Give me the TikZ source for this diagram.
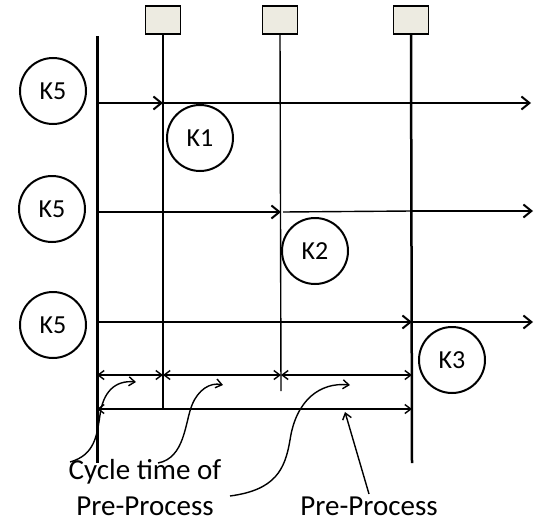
\documentclass[tikz,border=0pt]{standalone}
\usepackage{fontspec}
\setmainfont{Carlito}
\usetikzlibrary{arrows.meta}
\definecolor{boxfill}{HTML}{EDEBE1}
\tikzset{
  kcirc/.style={draw,circle,line width=2pt,minimum size=66pt,inner sep=0pt,font=\fontsize{26}{30}\selectfont},
  stbox/.style={draw,line width=1.5pt,fill=boxfill,minimum width=35pt,minimum height=28pt,inner sep=0pt},
  bigtip/.style={-{Straight Barb[length=8pt,width=13pt,line width=2pt]}},
  dimtip/.style={{Straight Barb[length=6pt,width=9pt]}-{Straight Barb[length=6pt,width=9pt]}},
  curvetip/.style={-{Straight Barb[length=6pt,width=9pt]}},
  thinln/.style={line width=1.4pt},
  thickln/.style={line width=2.5pt},
  lbl/.style={font=\fontsize{29}{36}\selectfont,align=center,inner sep=0pt}
}
\begin{document}
\begin{tikzpicture}[x=1pt,y=-1pt]
\useasboundingbox (0,0) rectangle (543,522);
% boxes
\node[stbox] (b1) at (163,20) {};
\node[stbox] (b2) at (280,20) {};
\node[stbox] (b3) at (411,20) {};
% circles
\node[kcirc] (k5a) at (53,91) {K5};
\node[kcirc] (k5b) at (52,209) {K5};
\node[kcirc] (k5c) at (53,325) {K5};
\node[kcirc] (k1) at (200,138) {K1};
\node[kcirc] (k2) at (315,251) {K2};
\node[kcirc] (k3) at (452,360) {K3};
% coordinates
\coordinate (Ltop) at (97,36);
\coordinate (Lbot) at (97,463);
\coordinate (v2b) at (163,409);
\coordinate (v3b) at (281,391);
\coordinate (v4b) at (412,463);
\coordinate (r1a) at (97,103);
\coordinate (r1b) at (163,103);
\coordinate (r1c) at (412,103);
\coordinate (r1d) at (531,103);
\coordinate (r2a) at (97,212);
\coordinate (r2b) at (281,212);
\coordinate (r2c) at (412,211);
\coordinate (r2d) at (533,211);
\coordinate (r3a) at (97,322);
\coordinate (r3b) at (412,322);
\coordinate (r3c) at (533,322);
\coordinate (d0) at (97,375);
\coordinate (d1) at (163,375);
\coordinate (d2) at (281,375);
\coordinate (d3) at (412,375);
\coordinate (e0) at (97,409);
\coordinate (e3) at (412,409);
% vertical lines
\draw[line width=3pt] (Ltop) -- (Lbot);
\draw[thinln] (b1.south) -- (v2b);
\draw[thinln] (b2.south) -- (v3b);
\draw[thickln] (b3.south) -- (v4b);
% row arrows
\draw[thickln,bigtip] (r1a) -- (r1b);
\draw[thinln] (r1b) -- (r1c);
\draw[thickln,bigtip] (r1c) -- (r1d);
\draw[thickln,bigtip] (r2a) -- (r2b);
\draw[thinln] ([xshift=2pt]r2b) -- (r2c);
\draw[thickln,bigtip] (r2c) -- (r2d);
\draw[thickln,bigtip] (r3a) -- (r3b);
\draw[thickln,bigtip] (r3b) -- (r3c);
% dimension arrows
\draw[thinln,dimtip] (d0) -- (d1);
\draw[thinln,dimtip] (d1) -- (d2);
\draw[thinln,dimtip] (d2) -- (d3);
\draw[thinln,dimtip] (e0) -- (e3);
% labels
\node[lbl,anchor=base] (cyc) at (145,515) {Cycle time of\\Pre-Process};
\node[lbl,anchor=base] (pp) at (369,515) {Pre-Process};
% callout curves
\coordinate (c1s) at (70,462);
\coordinate (c1e) at (136,382);
\coordinate (c2s) at (158,463);
\coordinate (c2e) at (223,385);
\coordinate (c3s) at (230,496);
\coordinate (c3e) at (350,385);
\coordinate (c4s) at (369,494);
\coordinate (c4e) at (345,412);
\draw[thinln,curvetip] (c1s) .. controls (95,455) and (97,435) .. (100,415) .. controls (103,392) and (115,380) .. (c1e);
\draw[thinln,curvetip] (c2s) .. controls (185,458) and (185,422) .. (192,405) .. controls (198,390) and (210,382) .. (c2e);
\draw[thinln,curvetip] (c3s) .. controls (275,490) and (285,470) .. (290,440) .. controls (296,400) and (320,382) .. (c3e);
\draw[thinln,curvetip] (c4s) -- (c4e);
\end{tikzpicture}
\end{document}
